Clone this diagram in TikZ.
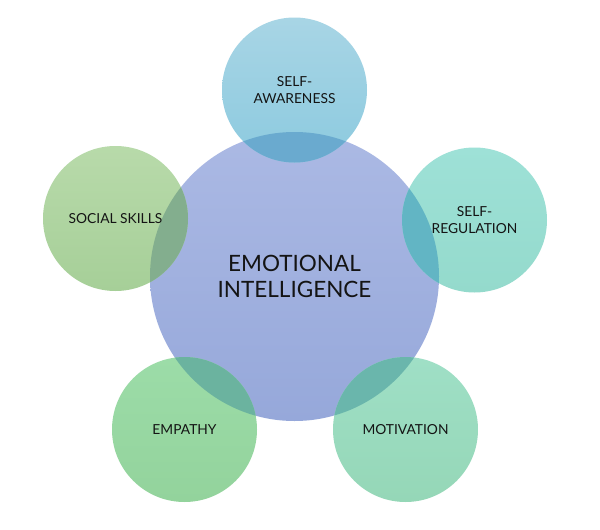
\documentclass[tikz,border=0pt]{standalone}
\usepackage{fontspec}
\setmainfont{Lato}
\definecolor{cTop}{HTML}{ABB9E4}
\definecolor{cBot}{HTML}{96A8DA}
\definecolor{aTop}{HTML}{A8D5E5}
\definecolor{aBot}{HTML}{8CCADF}
\definecolor{rTop}{HTML}{9EE1D7}
\definecolor{rBot}{HTML}{94DACC}
\definecolor{sTop}{HTML}{B8DAAA}
\definecolor{sBot}{HTML}{A6CF98}
\definecolor{eTop}{HTML}{9CDCA8}
\definecolor{eBot}{HTML}{93D39C}
\definecolor{mTop}{HTML}{9FDFC6}
\definecolor{mBot}{HTML}{95D7B7}
\definecolor{oA}{HTML}{6AAACF}
\definecolor{oR}{HTML}{62B5C4}
\definecolor{oS}{HTML}{83AE8E}
\definecolor{oE}{HTML}{6BB39F}
\definecolor{oM}{HTML}{6AB6AC}
\tikzset{
  bigc/.style={circle, minimum size=289pt, inner sep=0pt, top color=cTop, bottom color=cBot, draw=none},
  smallc/.style={circle, minimum size=145pt, inner sep=0pt, draw=none},
  lbl/.style={align=center, font=\fontsize{13.8}{17}\selectfont, text=black!92},
  biglbl/.style={align=center, font=\fontsize{22.5}{25.5}\selectfont, text=black!92},
}
\begin{document}
\begin{tikzpicture}[x=1pt,y=-1pt]
\useasboundingbox (0,0) rectangle (600,530);
\fill[white] (0,0) rectangle (600,530);
\node[bigc] (C) at (294.5,276.5) {};
\node[smallc, top color=aTop, bottom color=aBot] (A) at (294.5,90) {};
\node[smallc, top color=rTop, bottom color=rBot] (R) at (474.5,220) {};
\node[smallc, top color=sTop, bottom color=sBot] (S) at (115.5,218.5) {};
\node[smallc, top color=eTop, bottom color=eBot] (E) at (184.5,429.5) {};
\node[smallc, top color=mTop, bottom color=mBot] (M) at (405.5,429.5) {};
\begin{scope}
  \clip (C.center) circle (144.5pt);
  \fill[oA] (A.center) circle (72.5pt);
  \fill[oR] (R.center) circle (72.5pt);
  \fill[oS] (S.center) circle (72.5pt);
  \fill[oE] (E.center) circle (72.5pt);
  \fill[oM] (M.center) circle (72.5pt);
\end{scope}
\node[biglbl] (tC) at (C.center) {EMOTIONAL\\INTELLIGENCE};
\node[lbl] (tA) at (A.center) {SELF-\\AWARENESS};
\node[lbl] (tR) at (R.center) {SELF-\\REGULATION};
\node[lbl] (tS) at (S.center) {SOCIAL SKILLS};
\node[lbl] (tE) at (E.center) {EMPATHY};
\node[lbl] (tM) at (M.center) {MOTIVATION};
\end{tikzpicture}
\end{document}
